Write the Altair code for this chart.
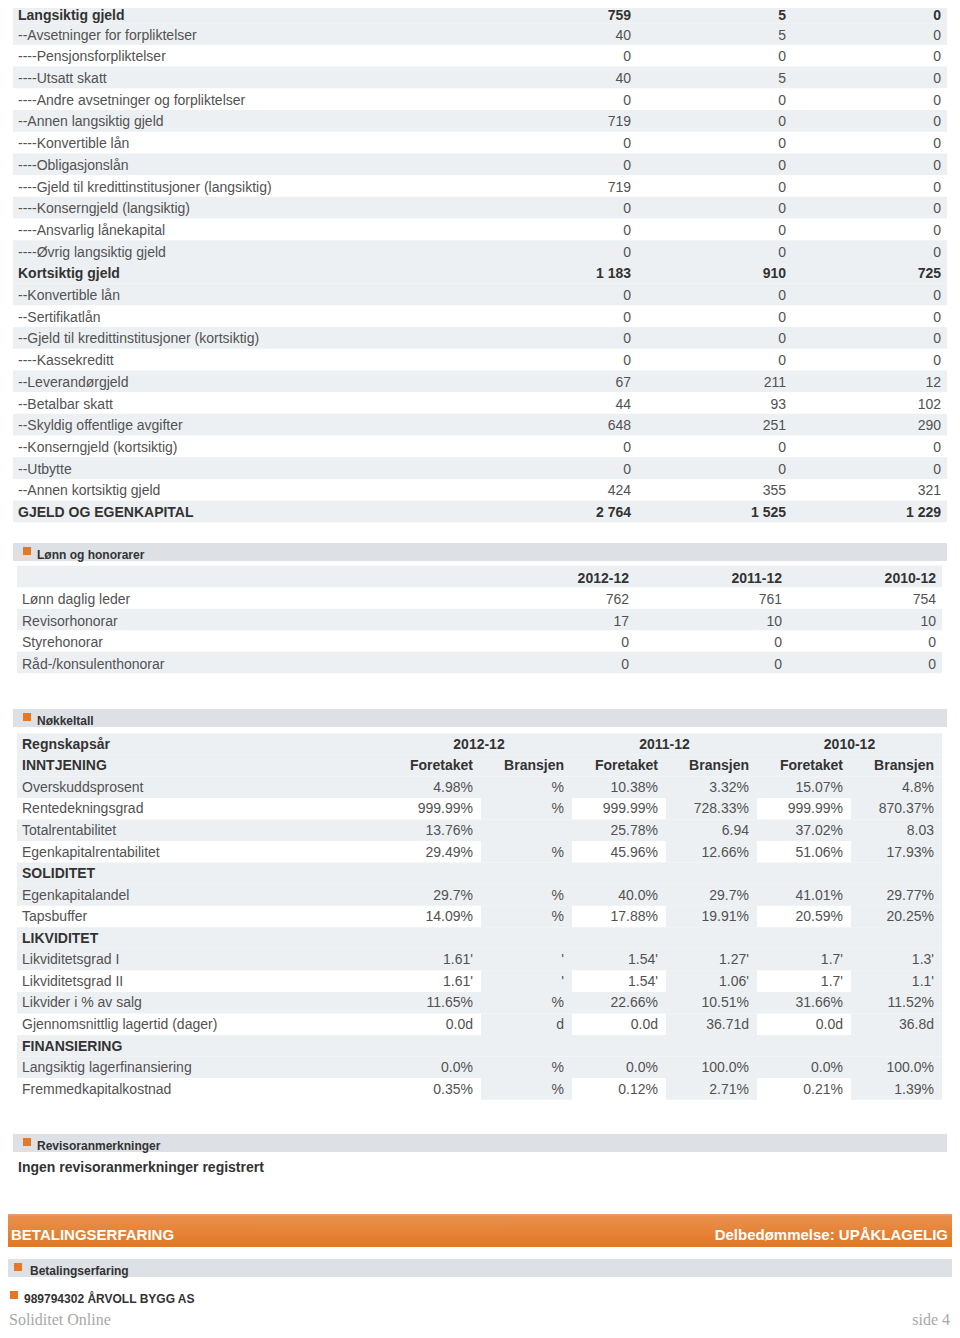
import altair as alt
import pandas as pd

# ---------------- data ----------------
bal_labels = [
    "Langsiktig gjeld", "--Avsetninger for forpliktelser", "----Pensjonsforpliktelser",
    "----Utsatt skatt", "----Andre avsetninger og forpliktelser", "--Annen langsiktig gjeld",
    "----Konvertible lån", "----Obligasjonslån", "----Gjeld til kredittinstitusjoner (langsiktig)",
    "----Konserngjeld (langsiktig)", "----Ansvarlig lånekapital", "----Øvrig langsiktig gjeld",
    "Kortsiktig gjeld", "--Konvertible lån", "--Sertifikatlån",
    "--Gjeld til kredittinstitusjoner (kortsiktig)", "----Kassekreditt", "--Leverandørgjeld",
    "--Betalbar skatt", "--Skyldig offentlige avgifter", "--Konserngjeld (kortsiktig)",
    "--Utbytte", "--Annen kortsiktig gjeld", "GJELD OG EGENKAPITAL",
]
bal_bold = [1, 0, 0, 0, 0, 0, 0, 0, 0, 0, 0, 0, 1, 0, 0, 0, 0, 0, 0, 0, 0, 0, 0, 1]
bal_2012 = [759, 40, 0, 40, 0, 719, 0, 0, 719, 0, 0, 0, 1183, 0, 0, 0, 0, 67, 44, 648, 0, 0, 424, 2764]
bal_2011 = [5, 5, 0, 5, 0, 0, 0, 0, 0, 0, 0, 0, 910, 0, 0, 0, 0, 211, 93, 251, 0, 0, 355, 1525]
bal_2010 = [0, 0, 0, 0, 0, 0, 0, 0, 0, 0, 0, 0, 725, 0, 0, 0, 0, 12, 102, 290, 0, 0, 321, 1229]

years = ["2012-12", "2011-12", "2010-12"]

lonn_labels = ["Lønn daglig leder", "Revisorhonorar", "Styrehonorar", "Råd-/konsulenthonorar"]
lonn_2012 = [762, 17, 0, 0]
lonn_2011 = [761, 10, 0, 0]
lonn_2010 = [754, 10, 0, 0]

nk_labels = [
    "Regnskapsår", "INNTJENING", "Overskuddsprosent", "Rentedekningsgrad", "Totalrentabilitet",
    "Egenkapitalrentabilitet", "SOLIDITET", "Egenkapitalandel", "Tapsbuffer", "LIKVIDITET",
    "Likviditetsgrad I", "Likviditetsgrad II", "Likvider i % av salg",
    "Gjennomsnittlig lagertid (dager)", "FINANSIERING", "Langsiktig lagerfinansiering",
    "Fremmedkapitalkostnad",
]
nk_kind = ["year", "sub", "d", "d", "d", "d", "sec", "d", "d", "sec", "d", "d", "d", "d", "sec", "d", "d"]
nk_shade = ["G", "G", "G", "W", "G", "W", "G", "G", "W", "G", "G", "W", "G", "W", "G", "G", "W"]
nk_sub = ["Foretaket", "Bransjen", "Foretaket", "Bransjen", "Foretaket", "Bransjen"]
nk_f2012 = ["4.98%", "999.99%", "13.76%", "29.49%", "29.7%", "14.09%", "1.61'", "1.61'", "11.65%", "0.0d", "0.0%", "0.35%"]
nk_b2012 = ["%", "%", "", "%", "%", "%", "'", "'", "%", "d", "%", "%"]
nk_f2011 = ["10.38%", "999.99%", "25.78%", "45.96%", "40.0%", "17.88%", "1.54'", "1.54'", "22.66%", "0.0d", "0.0%", "0.12%"]
nk_b2011 = ["3.32%", "728.33%", "6.94", "12.66%", "29.7%", "19.91%", "1.27'", "1.06'", "10.51%", "36.71d", "100.0%", "2.71%"]
nk_f2010 = ["15.07%", "999.99%", "37.02%", "51.06%", "41.01%", "20.59%", "1.7'", "1.7'", "31.66%", "0.0d", "0.0%", "0.21%"]
nk_b2010 = ["4.8%", "870.37%", "8.03", "17.93%", "29.77%", "20.25%", "1.3'", "1.1'", "11.52%", "36.8d", "100.0%", "1.39%"]

sections = ["Lønn og honorarer", "Nøkkeltall", "Revisoranmerkninger"]
revisor_text = "Ingen revisoranmerkninger registrert"
bet_title = "BETALINGSERFARING"
bet_rating = "Delbedømmelse: UPÅKLAGELIG"
bet_section = "Betalingserfaring"
company = "989794302 ÅRVOLL BYGG AS"
footer_left = "Soliditet Online"
footer_right = "side 4"

# ---------------- layout ----------------
X0, Y0, W, H = 8, 8, 944, 1322
xs = alt.Scale(domain=[X0, X0 + W], nice=False, zero=False)
ys = alt.Scale(domain=[Y0, Y0 + H], nice=False, zero=False, reverse=True)

GREY = "#edf0f2"
BAR = "#dde1e6"
ORANGE = "#e8771f"
TXT = "#525252"
BOLD = "#333333"
FONT = "Liberation Sans"


def fmt(v):
    return f"{v:,}".replace(",", " ")


rects = []
texts = []


def rect(x, x2, y, y2, fill):
    rects.append(dict(x=x, x2=x2, y=y, y2=y2, fill=fill))


def text(x, y, s, align="left", bold=False, size=14, color=None, font=FONT):
    texts.append(dict(x=x, y=y, text=s, align=align, bold=bold, size=size,
                      color=color or (BOLD if bold else TXT), font=font))


# balance table
RH = 21.7
for i, lab in enumerate(bal_labels):
    top = 1.5 + RH * i
    b = bool(bal_bold[i])
    if b or i % 2 == 1:
        rect(13, 947, top, top + RH, GREY)
    ty = 13.9 + RH * i
    if i == 0:
        ty += 1.6  # keep the first line inside the page margin
    text(18, ty, lab, bold=b)
    for xr, vals in zip([631, 786, 941], [bal_2012, bal_2011, bal_2010]):
        text(xr, ty, fmt(vals[i]), align="right", bold=b)


def section_bar(y_top, title, x1=13, x2=947, sq_x=23, tx=37):
    rect(x1, x2, y_top, y_top + 18, BAR)
    rect(sq_x, sq_x + 8, y_top + 4, y_top + 12, ORANGE)
    text(tx, y_top + 11.6, title, bold=True, size=12)


# Lønn og honorarer
section_bar(543, sections[0])
LR = 21.5
for j in range(5):
    top = 565.7 + LR * j
    if j in (0, 2, 4):
        rect(17, 942, top, top + LR, GREY)
ly = 578.6
for xr, yr in zip([629, 782, 936], years):
    text(xr, ly, yr, align="right", bold=True)
for j, lab in enumerate(lonn_labels):
    ty = 578.6 + 21.55 * (j + 1)
    text(22, ty, lab)
    for xr, vals in zip([629, 782, 936], [lonn_2012, lonn_2011, lonn_2010]):
        text(xr, ty, fmt(vals[j]), align="right")

# Nøkkeltall
section_bar(709, sections[1])
NR = 21.55
cells = [(386, 481), (481, 572), (572, 666), (666, 757), (757, 851), (851, 942)]
nk_cols = [nk_f2012, nk_b2012, nk_f2011, nk_b2011, nk_f2010, nk_b2010]
d = 0
for k, lab in enumerate(nk_labels):
    top = 733.3 + NR * k
    ty = 744.8 + NR * k
    if nk_shade[k] == "G":
        rect(17, 942, top, top + NR, GREY)
    else:
        for c in (1, 3, 5):
            rect(cells[c][0], cells[c][1], top, top + NR, GREY)
    kind = nk_kind[k]
    text(22, ty, lab, bold=(kind != "d"))
    if kind == "year":
        for c, yr in enumerate(years):
            cx = (cells[2 * c][0] + cells[2 * c + 1][1]) / 2 if c else (386 + 572) / 2
            text(cx, ty, yr, align="center", bold=True)
    elif kind == "sub":
        for c, s in enumerate(nk_sub):
            text(cells[c][1] - 8, ty, s, align="right", bold=True)
    elif kind == "d":
        for c in range(6):
            text(cells[c][1] - 8, ty, nk_cols[c][d], align="right")
        d += 1

# Revisoranmerkninger
section_bar(1134, sections[2])
text(18, 1167.5, revisor_text, bold=True)

# Betalingserfaring
text(11, 1234.5, bet_title, bold=True, size=15, color="#ffffff")
text(948, 1234.5, bet_rating, align="right", bold=True, size=15, color="#ffffff")
section_bar(1259, bet_section, x1=5, x2=955, sq_x=14, tx=30)
rect(10, 18, 1291, 1299, ORANGE)
text(24, 1299, company, bold=True, size=12)

# footer
text(9, 1320, footer_left, size=16, color="#a8a8a8", font="Liberation Serif")
text(950, 1320, footer_right, align="right", size=16, color="#a8a8a8", font="Liberation Serif")

rect_df = pd.DataFrame(rects)
text_df = pd.DataFrame(texts)

enc = dict(x=alt.X("x:Q", scale=xs, axis=None), y=alt.Y("y:Q", scale=ys, axis=None))

rect_layer = alt.Chart(rect_df).mark_rect(strokeWidth=0).encode(
    x2="x2:Q", y2="y2:Q", color=alt.Color("fill:N", scale=None), **enc
)

orange_df = pd.DataFrame([dict(x=6, x2=954, y=1214, y2=1247)])
orange_layer = alt.Chart(orange_df).mark_rect(
    strokeWidth=0,
    color=alt.LinearGradient(
        gradient="linear",
        stops=[alt.GradientStop(color="#eca06a", offset=0),
               alt.GradientStop(color="#e88f4c", offset=0.08),
               alt.GradientStop(color="#e37823", offset=1)],
        x1=0, x2=0, y1=0, y2=1,
    ),
).encode(x2="x2:Q", y2="y2:Q", **enc)

layers = [rect_layer, orange_layer]
for (align, bold, size, font), g in text_df.groupby(["align", "bold", "size", "font"]):
    layers.append(
        alt.Chart(g.reset_index(drop=True)).mark_text(
            align=align, baseline="middle", fontSize=int(size), font=font,
            fontWeight="bold" if bold else "normal",
        ).encode(text="text:N", color=alt.Color("color:N", scale=None), **enc)
    )

chart = alt.layer(*layers).properties(
    width=W, height=H, padding=0, autosize=alt.AutoSizeParams(type="none"),
    background="#ffffff",
).configure_view(strokeWidth=0)

chart.save("out.html", embed_options={"renderer": "svg", "actions": False})
